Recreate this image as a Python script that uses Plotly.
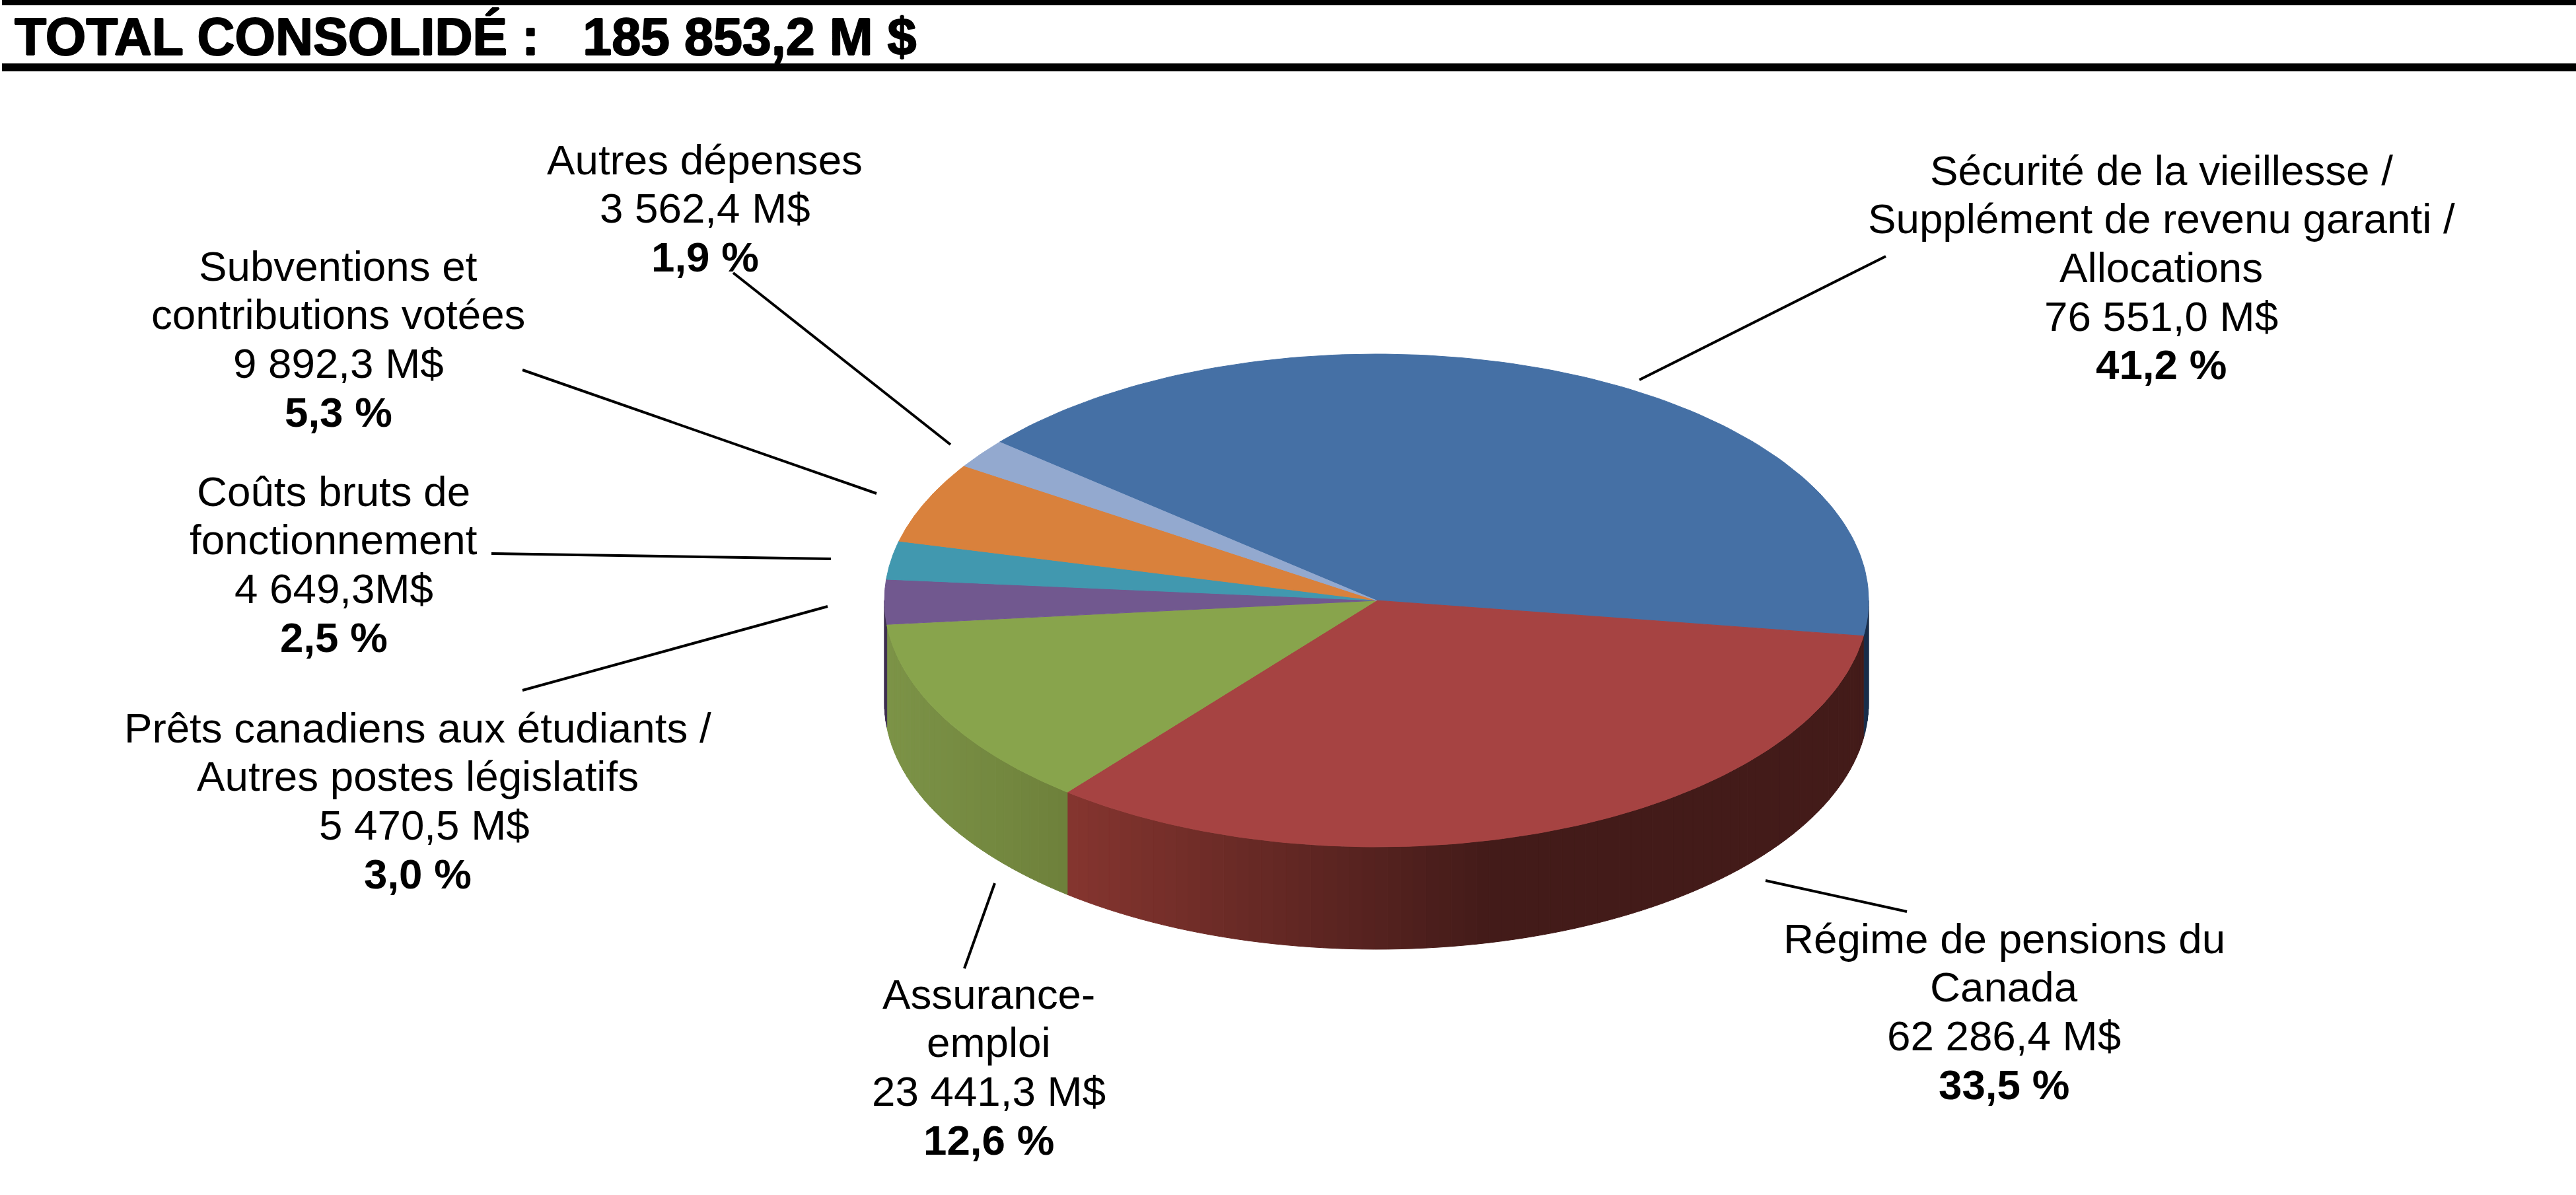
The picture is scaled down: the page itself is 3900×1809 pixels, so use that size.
import numpy as np
import plotly.graph_objects as go

# values in M$, clockwise starting from the blue slice
categories = ['Sécurité de la vieillesse', 'Régime de pensions du Canada', 'Assurance-emploi',
              'Prêts canadiens aux étudiants', 'Coûts bruts de fonctionnement',
              'Subventions et contributions votées', 'Autres dépenses']
values = [76551.0, 62286.4, 23441.3, 5470.5, 4649.3, 9892.3, 3562.4]
top_colors = ['#4570A5', '#A64342', '#88A44C', '#71588F', '#4198AF', '#D9813C', '#93A9CF']
# side colours, left end and right end of the gradient
side_colors = [('#1A2E4A', '#1A2E4A'), ('#85352F', '#431B19'), ('#7C9347', '#6E813B'),
               ('#3E2F50', '#3E2F50'), ('#245563', '#245563'), ('#7A4A20', '#7A4A20'), ('#52607A', '#52607A')]
title_text = 'TOTAL CONSOLIDÉ :   185 853,2 M $'

label_lines = [
    ['Sécurité de la vieillesse /', 'Supplément de revenu garanti /', 'Allocations', '76 551,0 M$', '<b>41,2 %</b>'],
    ['Régime de pensions du', 'Canada', '62 286,4 M$', '<b>33,5 %</b>'],
    ['Assurance-', 'emploi', '23 441,3 M$', '<b>12,6 %</b>'],
    ['Prêts canadiens aux étudiants /', 'Autres postes législatifs', '5 470,5 M$', '<b>3,0 %</b>'],
    ['Coûts bruts de', 'fonctionnement', '4 649,3M$', '<b>2,5 %</b>'],
    ['Subventions et', 'contributions votées', '9 892,3 M$', '<b>5,3 %</b>'],
    ['Autres dépenses', '3 562,4 M$', '<b>1,9 %</b>'],
]

# layout, in pixels of the page
W, H = 3900, 1809
CX, CY, RX, RY, DEPTH = 2084, 909, 745, 373, 155
START = 140.0
GRADIENT_END_X = 2250
FONT = 'Liberation Sans'
LABEL_SIZE = 63.7
label_x = [3272, 3034, 1497, 632, 505, 512, 1067]
label_y = [257, 1420, 1504, 1101, 743, 402, 241]
LINE_STEP = 73.7
# the one line that sits off the centre of its block in the original
line_nudge = {(3, 2): 10}
leaders = [((2482, 575), (2855, 388)), ((2673, 1333), (2887, 1380)), ((1506, 1337), (1460, 1466)),
           ((791, 1045), (1253, 918)), ((744, 838), (1258, 846)), ((791, 560), (1327, 747)),
           ((1110, 413), (1439, 673))]


def rim(angles):
    a = np.radians(angles)
    return CX + RX * np.cos(a), CY - RY * np.sin(a)


def mix(c1, c2, f):
    rgb1 = [int(c1[i:i + 2], 16) for i in (1, 3, 5)]
    rgb2 = [int(c2[i:i + 2], 16) for i in (1, 3, 5)]
    return 'rgb({},{},{})'.format(*[round(p + (q - p) * f) for p, q in zip(rgb1, rgb2)])


def polygon(x, y, color):
    return go.Scatter(x=x, y=y, mode='lines', fill='toself', fillcolor=color,
                      line=dict(color=color, width=1), hoverinfo='skip', showlegend=False)


spans = np.array(values) / sum(values) * 360
edges = START - np.concatenate([[0], np.cumsum(spans)])

fig = go.Figure()

# side wall first, only the part facing the viewer
for i in range(len(values)):
    hi, lo = min(edges[i], 0), max(edges[i + 1], -180)
    if hi <= lo:
        continue
    steps = np.linspace(hi, lo, max(2, int((hi - lo) / 1.5) + 2))
    for a0, a1 in zip(steps[:-1], steps[1:]):
        seg = np.linspace(a0, a1, 4)
        x, y = rim(seg)
        c1, c2 = side_colors[i]
        xl, xr = rim(hi)[0], rim(lo)[0]
        xl, xr = min(xl, xr), min(max(xl, xr), GRADIENT_END_X)
        f = float(np.clip((x.mean() - xl) / (xr - xl), 0, 1))
        fig.add_trace(polygon(np.concatenate([x, x[::-1], x[:1]]),
                              np.concatenate([y, y[::-1] + DEPTH, y[:1]]), mix(c1, c2, f)))

# top face
for i in range(len(values)):
    x, y = rim(np.linspace(edges[i], edges[i + 1], 120))
    fig.add_trace(polygon(np.concatenate([[CX], x, [CX]]), np.concatenate([[CY], y, [CY]]), top_colors[i]))

annotations = [dict(x=20, y=55, text='<b>' + title_text + '</b>', xanchor='left', yanchor='middle', showarrow=False,
                    font=dict(family=FONT, size=79, color='black',
                              shadow='1px 0 0 black, -1px 0 0 black, 0 1px 0 black, 0 -1px 0 black'))]
for n, (lines, lx, ly) in enumerate(zip(label_lines, label_x, label_y)):
    for k, line in enumerate(lines):
        annotations.append(dict(x=lx + line_nudge.get((n, k), 0), y=ly + k * LINE_STEP, text=line,
                                xanchor='center', yanchor='middle', showarrow=False,
                                font=dict(family=FONT, size=LABEL_SIZE, color='black')))

shapes = [dict(type='rect', x0=3, x1=W, y0=0, y1=8, fillcolor='black', line_width=0),
          dict(type='rect', x0=3, x1=W, y0=96, y1=108, fillcolor='black', line_width=0)]
for (x0, y0), (x1, y1) in leaders:
    shapes.append(dict(type='line', x0=x0, y0=y0, x1=x1, y1=y1, line=dict(color='black', width=4)))

fig.update_layout(
    width=W, height=H, margin=dict(l=0, r=0, t=0, b=0), paper_bgcolor='white', plot_bgcolor='white',
    xaxis=dict(range=[0, W], visible=False, fixedrange=True),
    yaxis=dict(range=[H, 0], visible=False, fixedrange=True),
    annotations=annotations, shapes=shapes, showlegend=False,
)
fig.write_html("out.html", config=dict(displayModeBar=False), post_script="document.body.style.margin='0';")
